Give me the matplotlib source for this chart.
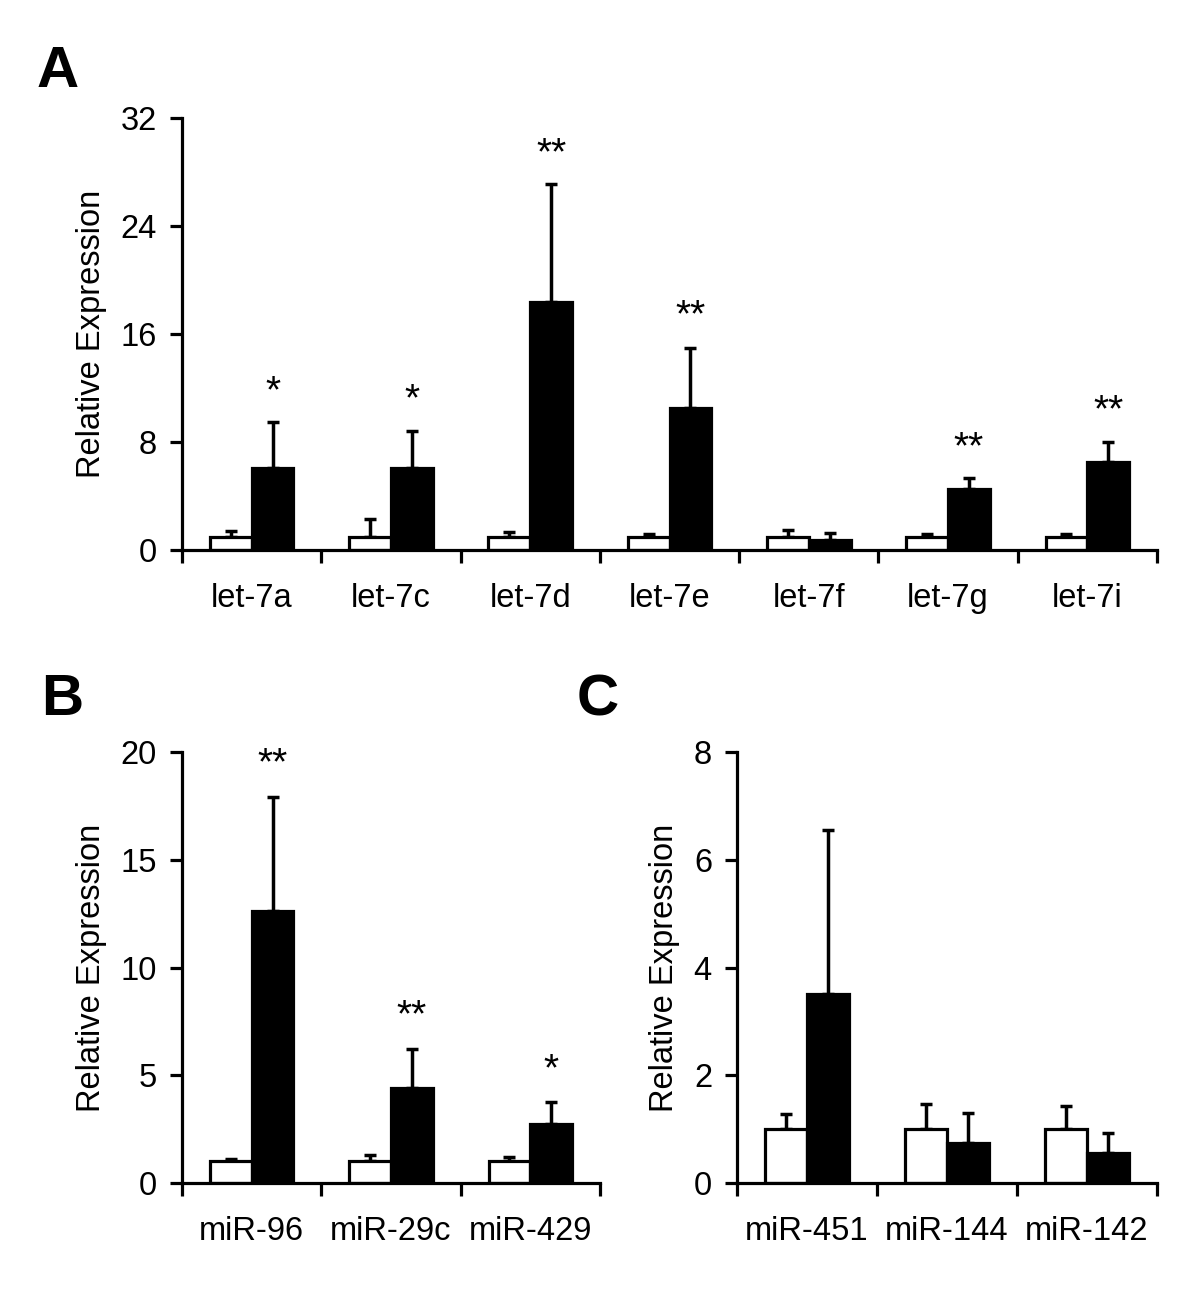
import matplotlib
matplotlib.use("Agg")
import matplotlib.pyplot as plt
import numpy as np

plt.rcParams['font.family'] = ['Liberation Sans', 'DejaVu Sans']

# Panel A data
a_labels = ["let-7a", "let-7c", "let-7d", "let-7e", "let-7f", "let-7g", "let-7i"]
a_ctrl = [1.0, 1.0, 1.0, 1.0, 1.0, 1.0, 1.0]
a_ctrl_err = [0.4, 1.3, 0.3, 0.2, 0.45, 0.15, 0.2]
a_trt = [6.1, 6.1, 18.4, 10.5, 0.74, 4.55, 6.5]
a_trt_err = [3.4, 2.7, 8.7, 4.5, 0.55, 0.75, 1.5]
a_sig = ["*", "*", "**", "**", "", "**", "**"]
a_sig_y = [12.3, 11.7, 29.9, 17.9, 0, 8.15, 10.9]
a_yticks = [0, 8, 16, 24, 32]

# Panel B data
b_labels = ["miR-96", "miR-29c", "miR-429"]
b_ctrl = [1.0, 1.0, 1.0]
b_ctrl_err = [0.1, 0.3, 0.2]
b_trt = [12.6, 4.4, 2.75]
b_trt_err = [5.3, 1.8, 1.0]
b_sig = ["**", "**", "*"]
b_sig_y = [19.8, 8.1, 5.6]
b_yticks = [0, 5, 10, 15, 20]

# Panel C data
c_labels = ["miR-451", "miR-144", "miR-142"]
c_ctrl = [1.0, 1.0, 1.0]
c_ctrl_err = [0.28, 0.47, 0.43]
c_trt = [3.5, 0.75, 0.55]
c_trt_err = [3.05, 0.55, 0.37]
c_sig = ["", "", ""]
c_sig_y = [0, 0, 0]
c_yticks = [0, 2, 4, 6, 8]

FS = 23.5
SFS = 28
LW = 2.3

fig = plt.figure(figsize=(12, 12.95), dpi=100)


def panel(rect, labels, ctrl, ctrl_err, trt, trt_err, sig, sig_y, yticks):
    ax = fig.add_axes(rect)
    n = len(labels)
    x = np.arange(n) + 0.5
    w = 0.3
    zeros = [0] * n
    ax.bar(x - w / 2, ctrl, w, color="white", edgecolor="black", linewidth=LW, zorder=2)
    ax.bar(x + w / 2, trt, w, color="black", edgecolor="black", linewidth=LW, zorder=2)
    ax.errorbar(x - w / 2, ctrl, yerr=[zeros, ctrl_err], fmt="none", ecolor="black",
                elinewidth=2.5, capsize=4, capthick=2.5, zorder=1)
    ax.errorbar(x + w / 2, trt, yerr=[zeros, trt_err], fmt="none", ecolor="black",
                elinewidth=2.5, capsize=4, capthick=2.5, zorder=1)
    for xi, s, sy in zip(x, sig, sig_y):
        if s:
            ax.annotate(s, (xi + w / 2, sy), xytext=(0, -6), textcoords="offset points",
                        ha="center", va="center", fontsize=SFS)
    ax.set_xlim(0, n)
    ax.set_ylim(yticks[0], yticks[-1])
    ax.set_yticks(yticks)
    ax.set_xticks(np.arange(n + 1))
    ax.set_xticklabels([])
    ax.set_xticks(x, minor=True)
    ax.set_xticklabels(labels, minor=True)
    ax.tick_params(axis="x", which="minor", length=0, pad=24, labelsize=FS)
    ax.tick_params(axis="x", which="major", direction="out", length=9, width=LW)
    ax.tick_params(axis="y", direction="out", length=9, width=LW, pad=9, labelsize=FS)
    for sp in ["top", "right"]:
        ax.spines[sp].set_visible(False)
    for sp in ["left", "bottom"]:
        ax.spines[sp].set_linewidth(LW)
    ax.spines["left"].set_bounds(yticks[0], yticks[-1])
    ax.set_ylabel("Relative Expression", fontsize=FS, labelpad=10)
    ax.patch.set_alpha(0)
    return ax


axA = panel([182 / 1200, 1 - 550 / 1295, (1157 - 182) / 1200, (550 - 118) / 1295],
            a_labels, a_ctrl, a_ctrl_err, a_trt, a_trt_err, a_sig, a_sig_y, a_yticks)
axB = panel([182 / 1200, 1 - 1183 / 1295, (600 - 182) / 1200, (1183 - 752) / 1295],
            b_labels, b_ctrl, b_ctrl_err, b_trt, b_trt_err, b_sig, b_sig_y, b_yticks)
axC = panel([737 / 1200, 1 - 1183 / 1295, (1157 - 737) / 1200, (1183 - 752) / 1295],
            c_labels, c_ctrl, c_ctrl_err, c_trt, c_trt_err, c_sig, c_sig_y, c_yticks)

fig.text(37 / 1200, 1 - 87 / 1295, "A", fontsize=42, fontweight="bold", ha="left", va="baseline")
fig.text(41 / 1200, 1 - 715 / 1295, "B", fontsize=42, fontweight="bold", ha="left", va="baseline")
fig.text(577 / 1200, 1 - 715 / 1295, "C", fontsize=42, fontweight="bold", ha="left", va="baseline")

fig.savefig("out.png", dpi=100, facecolor="white")
